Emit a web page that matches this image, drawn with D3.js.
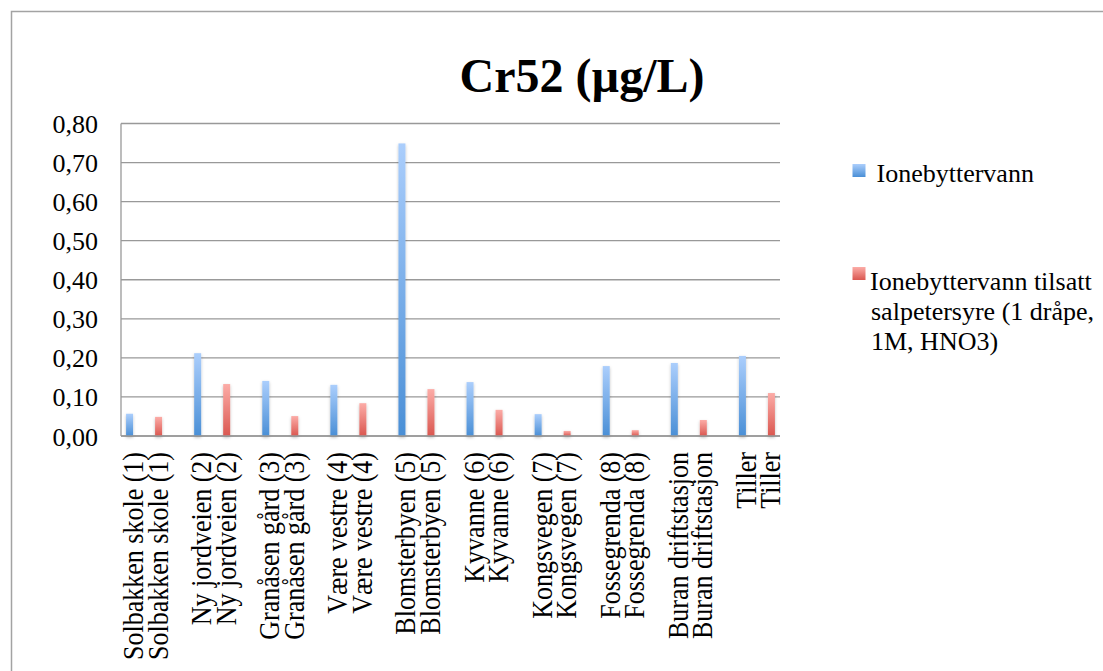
<!DOCTYPE html>
<html>
<head>
<meta charset="utf-8">
<script src="https://cdn.jsdelivr.net/npm/d3@7"></script>
<style>
  html, body { margin: 0; padding: 0; background: #fff; }
  svg { display: block; }
  text, tspan { font-family: "Liberation Serif", "Times New Roman", serif; }
</style>
</head>
<body>
<svg id="chart" width="1103" height="671"></svg>
<script>
const categories = ["Solbakken skole (1)", "Ny jordveien (2)", "Granåsen gård (3)", "Være vestre (4)", "Blomsterbyen (5)", "Kyvanne (6)", "Kongsvegen (7)", "Fossegrenda (8)", "Buran driftstasjon", "Tiller"];
const seriesNames = ["Ionebyttervann", "Ionebyttervann tilsatt salpetersyre (1 dråpe, 1M, HNO3)"];
const ionebyttervann = [0.057, 0.212, 0.141, 0.131, 0.749, 0.138, 0.056, 0.179, 0.187, 0.205];
const tilsattHNO3 = [0.049, 0.133, 0.051, 0.084, 0.120, 0.067, 0.013, 0.015, 0.041, 0.110];
const yTickValues = [0, 0.1, 0.2, 0.3, 0.4, 0.5, 0.6, 0.7, 0.8];
const titleText = "Cr52 (µg/L)";
const legendLines = [["Ionebyttervann"], ["Ionebyttervann tilsatt", "salpetersyre (1 dråpe,", "1M, HNO3)"]];

const FONT = "Liberation Serif";
const svg = d3.select("#chart");
const plot = { left: 121, right: 780, top: 123.5, bottom: 436 };

// outer chart border
svg.append("path")
  .attr("d", "M11.5,700 V11.5 H1200")
  .attr("fill", "none").attr("stroke", "#a3a3a3").attr("stroke-width", 1.5);

// gradients & shadow
const defs = svg.append("defs");
function grad(id, top, bottom) {
  const g = defs.append("linearGradient").attr("id", id)
    .attr("x1", 0).attr("y1", 0).attr("x2", 0).attr("y2", 1);
  g.append("stop").attr("offset", "0%").attr("stop-color", top);
  g.append("stop").attr("offset", "100%").attr("stop-color", bottom);
}
grad("gBlue", "#abcefc", "#4a8fd6");
grad("gRed", "#fcaca7", "#da5750");
const f = defs.append("filter").attr("id", "shadow")
  .attr("x", "-100%").attr("y", "-10%").attr("width", "300%").attr("height", "130%");
f.append("feDropShadow").attr("dx", 0).attr("dy", 1.5).attr("stdDeviation", 1.5)
  .attr("flood-color", "#000").attr("flood-opacity", 0.25);

const y = d3.scaleLinear().domain([0, 0.8]).range([plot.bottom, plot.top]);
const x0 = d3.scalePoint().domain(categories).range([plot.left, plot.right]).padding(0.339);
const x1 = d3.scaleBand().domain([0, 1]).range([-18, 18]).paddingInner(0.759).paddingOuter(0);

// gridlines
svg.append("g").selectAll("line").data(yTickValues).join("line")
  .attr("x1", plot.left).attr("x2", plot.right)
  .attr("y1", d => y(d)).attr("y2", d => y(d))
  .attr("stroke", "#999").attr("stroke-width", 1.3);

// left axis line
svg.append("line")
  .attr("x1", plot.left).attr("x2", plot.left)
  .attr("y1", plot.top).attr("y2", plot.bottom)
  .attr("stroke", "#999").attr("stroke-width", 1.3);

// y tick labels
const fmt = d => d3.format(".2f")(d).replace(".", ",");
svg.append("g").selectAll("text").data(yTickValues).join("text")
  .attr("x", 98).attr("y", d => y(d) + 9.5)
  .attr("text-anchor", "end").attr("font-size", 26).attr("font-family", FONT).attr("fill", "#000")
  .text(fmt);

// bars
const seriesData = [ionebyttervann, tilsattHNO3];
const fills = ["url(#gBlue)", "url(#gRed)"];
const barsG = svg.append("g").attr("filter", "url(#shadow)");
seriesData.forEach((vals, si) => {
  barsG.append("g").selectAll("rect").data(vals).join("rect")
    .attr("x", (d, i) => x0(categories[i]) + x1(si))
    .attr("width", x1.bandwidth())
    .attr("y", d => y(d))
    .attr("height", d => y(0) - y(d))
    .attr("fill", fills[si]);
});

// baseline on top
svg.append("line")
  .attr("x1", plot.left).attr("x2", plot.right)
  .attr("y1", plot.bottom).attr("y2", plot.bottom)
  .attr("stroke", "#999").attr("stroke-width", 1.3);

// x labels (two lines each, rotated)
const xl = svg.append("g");
categories.forEach(c => {
  const cx = x0(c);
  [-1, 23.5].forEach(off => {
    xl.append("text")
      .attr("transform", `translate(${cx + off},452) rotate(-90) scale(1,1.1)`)
      .attr("text-anchor", "end").attr("font-size", 26).attr("font-family", FONT).attr("fill", "#000")
      .text(c);
  });
});

// title
svg.append("text")
  .attr("x", 582).attr("y", 92)
  .attr("text-anchor", "middle").attr("font-size", 48).attr("font-weight", "bold")
  .attr("font-family", FONT).attr("fill", "#000").text(titleText);

// legend
const legendSq = [{ y: 164, tx: 876.5, ty: 181.5 }, { y: 267, tx: 870, ty: 290 }];
const lg = svg.append("g");
legendSq.forEach((L, i) => {
  lg.append("rect").attr("x", 852.5).attr("y", L.y).attr("width", 13).attr("height", 13)
    .attr("fill", fills[i]);
  legendLines[i].forEach((ln, j) => {
    lg.append("text")
      .attr("x", j === 0 ? L.tx : 871).attr("y", L.ty + j * 30)
      .attr("font-size", 26).attr("font-family", FONT).attr("fill", "#000")
      .text(ln);
  });
});
</script>
</body>
</html>
